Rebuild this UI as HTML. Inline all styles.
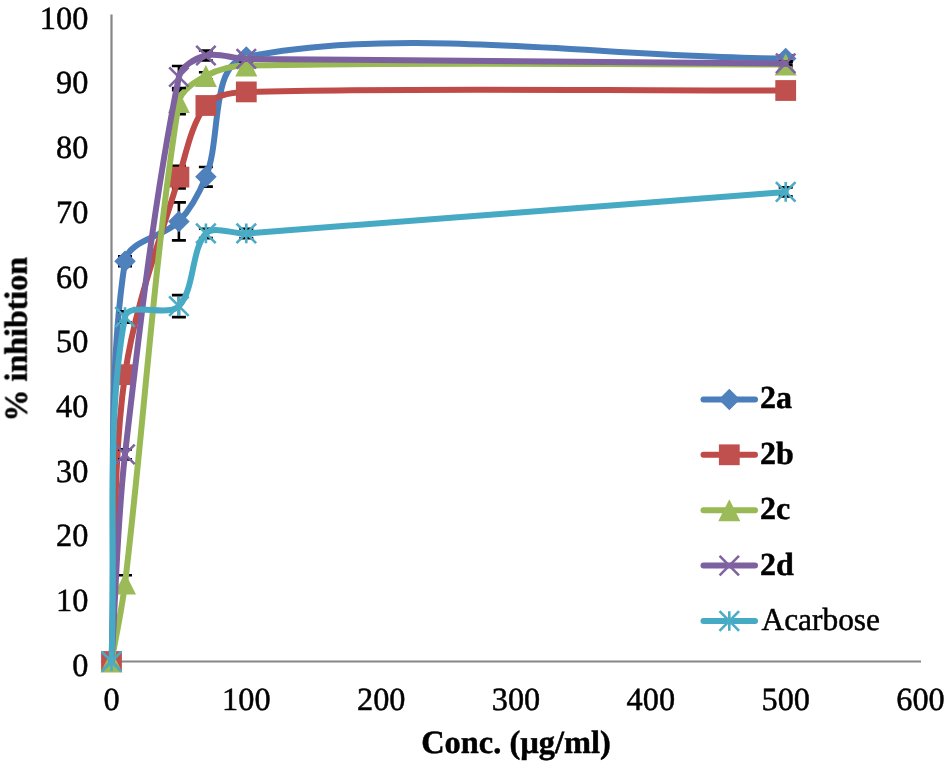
<!DOCTYPE html>
<html><head><meta charset="utf-8"><title>Chart</title>
<style>html,body{margin:0;padding:0;background:#fff;width:944px;height:762px;overflow:hidden}svg{display:block}text{font-family:"Liberation Serif",serif}</style>
</head><body>
<svg width="944" height="762" viewBox="0 0 944 762">
<rect width="944" height="762" fill="#fff"/>
<g font-family="Liberation Serif, serif" font-size="32" fill="#000" opacity="0.999" text-rendering="geometricPrecision" stroke="#000" stroke-width="0.5">
<text transform="translate(88.3,675.7)" font-size="32.3" text-anchor="end">0</text><text transform="translate(88.3,611.0)" font-size="32.3" text-anchor="end">10</text><text transform="translate(88.3,546.3)" font-size="32.3" text-anchor="end">20</text><text transform="translate(88.3,481.6)" font-size="32.3" text-anchor="end">30</text><text transform="translate(88.3,416.9)" font-size="32.3" text-anchor="end">40</text><text transform="translate(88.3,352.2)" font-size="32.3" text-anchor="end">50</text><text transform="translate(88.3,287.5)" font-size="32.3" text-anchor="end">60</text><text transform="translate(88.3,222.8)" font-size="32.3" text-anchor="end">70</text><text transform="translate(88.3,158.1)" font-size="32.3" text-anchor="end">80</text><text transform="translate(88.3,93.4)" font-size="32.3" text-anchor="end">90</text><text transform="translate(88.3,28.7)" font-size="32.3" text-anchor="end">100</text>
<text transform="translate(111.5,710.0)" font-size="32.3" text-anchor="middle">0</text><text transform="translate(246.3,710.0)" font-size="32.3" text-anchor="middle">100</text><text transform="translate(381.2,710.0)" font-size="32.3" text-anchor="middle">200</text><text transform="translate(516.0,710.0)" font-size="32.3" text-anchor="middle">300</text><text transform="translate(650.8,710.0)" font-size="32.3" text-anchor="middle">400</text><text transform="translate(785.7,710.0)" font-size="32.3" text-anchor="middle">500</text><text transform="translate(920.5,710.0)" font-size="32.3" text-anchor="middle">600</text>
<text x="516" y="752.5" text-anchor="middle" font-weight="bold" font-size="32.4">Conc. (µg/ml)</text>
<text transform="translate(26.7,339.3) rotate(-90)" text-anchor="middle" font-weight="bold">% inhibtion</text>
<text x="760" y="408.4" font-weight="bold">2a</text><text x="760" y="463.8" font-weight="bold">2b</text><text x="760" y="519.2" font-weight="bold">2c</text><text x="760" y="574.6" font-weight="bold">2d</text><text x="761.5" y="630.0" textLength="118.5" lengthAdjust="spacingAndGlyphs">Acarbose</text>
</g>
<path d="M111.5,14.5V661.5H921" stroke="#868686" stroke-width="2.2" fill="none"/><g><path d="M125.00,256.40V266.20M118.00,256.40H132.00M118.00,266.20H132.00" stroke="#000" stroke-width="2.6" fill="none"/><path d="M178.90,202.40V240.40M171.90,202.40H185.90M171.90,240.40H185.90" stroke="#000" stroke-width="2.6" fill="none"/><path d="M205.90,167.00V186.60M198.90,167.00H212.90M198.90,186.60H212.90" stroke="#000" stroke-width="2.6" fill="none"/><path d="M246.30,54.00V60.00M239.30,54.00H253.30M239.30,60.00H253.30" stroke="#000" stroke-width="2.6" fill="none"/><path d="M785.70,55.40V61.40M778.70,55.40H792.70M778.70,61.40H792.70" stroke="#000" stroke-width="2.6" fill="none"/><path d="M111.50,661.50 C116.00,528.10 105.76,386.96 125.00,261.30 C128.22,240.26 163.73,237.25 178.90,221.40 C190.70,209.08 199.34,192.80 205.90,176.80 C221.81,138.00 209.60,64.49 246.30,57.00 C402.87,25.03 605.90,57.93 785.70,58.40" stroke="#4A7EBB" stroke-width="6" fill="none" stroke-linecap="round" stroke-linejoin="round"/><path d="M111.50,650.75L122.25,661.50L111.50,672.25L100.75,661.50Z" fill="#4F81BD"/><path d="M125.00,250.55L135.75,261.30L125.00,272.05L114.25,261.30Z" fill="#4F81BD"/><path d="M178.90,210.65L189.65,221.40L178.90,232.15L168.15,221.40Z" fill="#4F81BD"/><path d="M205.90,166.05L216.65,176.80L205.90,187.55L195.15,176.80Z" fill="#4F81BD"/><path d="M246.30,46.25L257.05,57.00L246.30,67.75L235.55,57.00Z" fill="#4F81BD"/><path d="M785.70,47.65L796.45,58.40L785.70,69.15L774.95,58.40Z" fill="#4F81BD"/></g><g><path d="M125.00,370.70V378.70M118.00,370.70H132.00M118.00,378.70H132.00" stroke="#000" stroke-width="2.6" fill="none"/><path d="M178.90,165.80V188.40M171.90,165.80H185.90M171.90,188.40H185.90" stroke="#000" stroke-width="2.6" fill="none"/><path d="M205.90,101.50V109.50M198.90,101.50H212.90M198.90,109.50H212.90" stroke="#000" stroke-width="2.6" fill="none"/><path d="M246.30,88.90V94.90M239.30,88.90H253.30M239.30,94.90H253.30" stroke="#000" stroke-width="2.6" fill="none"/><path d="M785.70,87.50V93.50M778.70,87.50H792.70M778.70,93.50H792.70" stroke="#000" stroke-width="2.6" fill="none"/><path d="M111.50,661.50 C116.00,565.90 111.89,468.94 125.00,374.70 C134.35,307.47 159.27,242.43 178.90,177.10 C186.23,152.69 191.47,123.74 205.90,105.50 C213.94,95.34 232.15,92.27 246.30,91.90 C425.41,87.27 605.90,90.97 785.70,90.50" stroke="#BE4B48" stroke-width="6" fill="none" stroke-linecap="round" stroke-linejoin="round"/><rect x="101.10" y="651.10" width="20.80" height="20.80" fill="#C0504D"/><rect x="114.60" y="364.30" width="20.80" height="20.80" fill="#C0504D"/><rect x="168.50" y="166.70" width="20.80" height="20.80" fill="#C0504D"/><rect x="195.50" y="95.10" width="20.80" height="20.80" fill="#C0504D"/><rect x="235.90" y="81.50" width="20.80" height="20.80" fill="#C0504D"/><rect x="775.30" y="80.10" width="20.80" height="20.80" fill="#C0504D"/></g><g><path d="M125.00,575.20V592.00M118.00,575.20H132.00M118.00,592.00H132.00" stroke="#000" stroke-width="2.6" fill="none"/><path d="M178.90,90.10V114.10M171.90,90.10H185.90M171.90,114.10H185.90" stroke="#000" stroke-width="2.6" fill="none"/><path d="M205.90,72.30V79.50M198.90,72.30H212.90M198.90,79.50H212.90" stroke="#000" stroke-width="2.6" fill="none"/><path d="M246.30,62.50V68.50M239.30,62.50H253.30M239.30,68.50H253.30" stroke="#000" stroke-width="2.6" fill="none"/><path d="M785.70,61.40V67.40M778.70,61.40H792.70M778.70,67.40H792.70" stroke="#000" stroke-width="2.6" fill="none"/><path d="M111.50,661.50 C116.00,635.53 121.85,609.76 125.00,583.60 C144.31,423.29 153.88,259.14 178.90,102.10 C180.84,89.91 195.25,81.69 205.90,75.90 C217.71,69.49 232.43,65.78 246.30,65.50 C425.69,61.94 605.90,64.77 785.70,64.40" stroke="#98B954" stroke-width="6" fill="none" stroke-linecap="round" stroke-linejoin="round"/><path d="M111.50,650.50L122.50,672.50L100.50,672.50Z" fill="#9BBB59"/><path d="M125.00,572.60L136.00,594.60L114.00,594.60Z" fill="#9BBB59"/><path d="M178.90,91.10L189.90,113.10L167.90,113.10Z" fill="#9BBB59"/><path d="M205.90,64.90L216.90,86.90L194.90,86.90Z" fill="#9BBB59"/><path d="M246.30,54.50L257.30,76.50L235.30,76.50Z" fill="#9BBB59"/><path d="M785.70,53.40L796.70,75.40L774.70,75.40Z" fill="#9BBB59"/></g><g><path d="M125.00,449.40V459.40M118.00,449.40H132.00M118.00,459.40H132.00" stroke="#000" stroke-width="2.6" fill="none"/><path d="M178.90,66.00V88.00M171.90,66.00H185.90M171.90,88.00H185.90" stroke="#000" stroke-width="2.6" fill="none"/><path d="M205.90,50.50V60.50M198.90,50.50H212.90M198.90,60.50H212.90" stroke="#000" stroke-width="2.6" fill="none"/><path d="M246.30,57.40V60.40M239.30,57.40H253.30M239.30,60.40H253.30" stroke="#000" stroke-width="2.6" fill="none"/><path d="M785.70,61.90V64.90M778.70,61.90H792.70M778.70,64.90H792.70" stroke="#000" stroke-width="2.6" fill="none"/><path d="M111.50,661.50 C116.00,592.47 117.08,523.08 125.00,454.40 C139.55,328.24 154.17,198.93 178.90,77.00 C181.14,65.96 195.57,58.27 205.90,55.50 C218.04,52.24 232.79,58.72 246.30,58.90 C426.06,61.35 605.90,61.90 785.70,63.40" stroke="#7D60A0" stroke-width="6" fill="none" stroke-linecap="round" stroke-linejoin="round"/><path d="M101.80,651.80L121.20,671.20M121.20,651.80L101.80,671.20" stroke="#8064A2" stroke-width="2.6" fill="none"/><path d="M115.30,444.70L134.70,464.10M134.70,444.70L115.30,464.10" stroke="#8064A2" stroke-width="2.6" fill="none"/><path d="M169.20,67.30L188.60,86.70M188.60,67.30L169.20,86.70" stroke="#8064A2" stroke-width="2.6" fill="none"/><path d="M196.20,45.80L215.60,65.20M215.60,45.80L196.20,65.20" stroke="#8064A2" stroke-width="2.6" fill="none"/><path d="M236.60,49.20L256.00,68.60M256.00,49.20L236.60,68.60" stroke="#8064A2" stroke-width="2.6" fill="none"/><path d="M776.00,53.70L795.40,73.10M795.40,53.70L776.00,73.10" stroke="#8064A2" stroke-width="2.6" fill="none"/></g><g><path d="M125.00,311.40V322.60M118.00,311.40H132.00M118.00,322.60H132.00" stroke="#000" stroke-width="2.6" fill="none"/><path d="M178.90,295.10V317.10M171.90,295.10H185.90M171.90,317.10H185.90" stroke="#000" stroke-width="2.6" fill="none"/><path d="M205.90,228.70V238.10M198.90,228.70H212.90M198.90,238.10H212.90" stroke="#000" stroke-width="2.6" fill="none"/><path d="M246.30,228.70V238.10M239.30,228.70H253.30M239.30,238.10H253.30" stroke="#000" stroke-width="2.6" fill="none"/><path d="M785.70,187.40V196.40M778.70,187.40H792.70M778.70,196.40H792.70" stroke="#000" stroke-width="2.6" fill="none"/><path d="M111.50,661.50 C116.00,546.67 105.62,419.17 125.00,317.00 C128.09,300.70 167.71,317.66 178.90,306.10 C194.68,289.80 191.13,249.33 205.90,233.40 C213.60,225.10 232.87,234.36 246.30,233.40 C426.14,220.53 605.90,205.73 785.70,191.90" stroke="#46AAC5" stroke-width="6" fill="none" stroke-linecap="round" stroke-linejoin="round"/><path d="M101.70,651.70L121.30,671.30M121.30,651.70L101.70,671.30M111.50,651.70L111.50,671.30" stroke="#4BACC6" stroke-width="2.6" fill="none"/><path d="M115.20,307.20L134.80,326.80M134.80,307.20L115.20,326.80M125.00,307.20L125.00,326.80" stroke="#4BACC6" stroke-width="2.6" fill="none"/><path d="M169.10,296.30L188.70,315.90M188.70,296.30L169.10,315.90M178.90,296.30L178.90,315.90" stroke="#4BACC6" stroke-width="2.6" fill="none"/><path d="M196.10,223.60L215.70,243.20M215.70,223.60L196.10,243.20M205.90,223.60L205.90,243.20" stroke="#4BACC6" stroke-width="2.6" fill="none"/><path d="M236.50,223.60L256.10,243.20M256.10,223.60L236.50,243.20M246.30,223.60L246.30,243.20" stroke="#4BACC6" stroke-width="2.6" fill="none"/><path d="M775.90,182.10L795.50,201.70M795.50,182.10L775.90,201.70M785.70,182.10L785.70,201.70" stroke="#4BACC6" stroke-width="2.6" fill="none"/></g><path d="M703.5,399.4H755" stroke="#4A7EBB" stroke-width="6" stroke-linecap="round"/><path d="M729.30,388.65L740.05,399.40L729.30,410.15L718.55,399.40Z" fill="#4F81BD"/><path d="M703.5,454.8H755" stroke="#BE4B48" stroke-width="6" stroke-linecap="round"/><rect x="718.90" y="444.40" width="20.80" height="20.80" fill="#C0504D"/><path d="M703.5,510.2H755" stroke="#98B954" stroke-width="6" stroke-linecap="round"/><path d="M729.30,499.20L740.30,521.20L718.30,521.20Z" fill="#9BBB59"/><path d="M703.5,565.6H755" stroke="#7D60A0" stroke-width="6" stroke-linecap="round"/><path d="M719.60,555.90L739.00,575.30M739.00,555.90L719.60,575.30" stroke="#8064A2" stroke-width="2.6" fill="none"/><path d="M703.5,621.0H755" stroke="#46AAC5" stroke-width="6" stroke-linecap="round"/><path d="M719.50,611.20L739.10,630.80M739.10,611.20L719.50,630.80M729.30,611.20L729.30,630.80" stroke="#4BACC6" stroke-width="2.6" fill="none"/>
</svg>
</body></html>
